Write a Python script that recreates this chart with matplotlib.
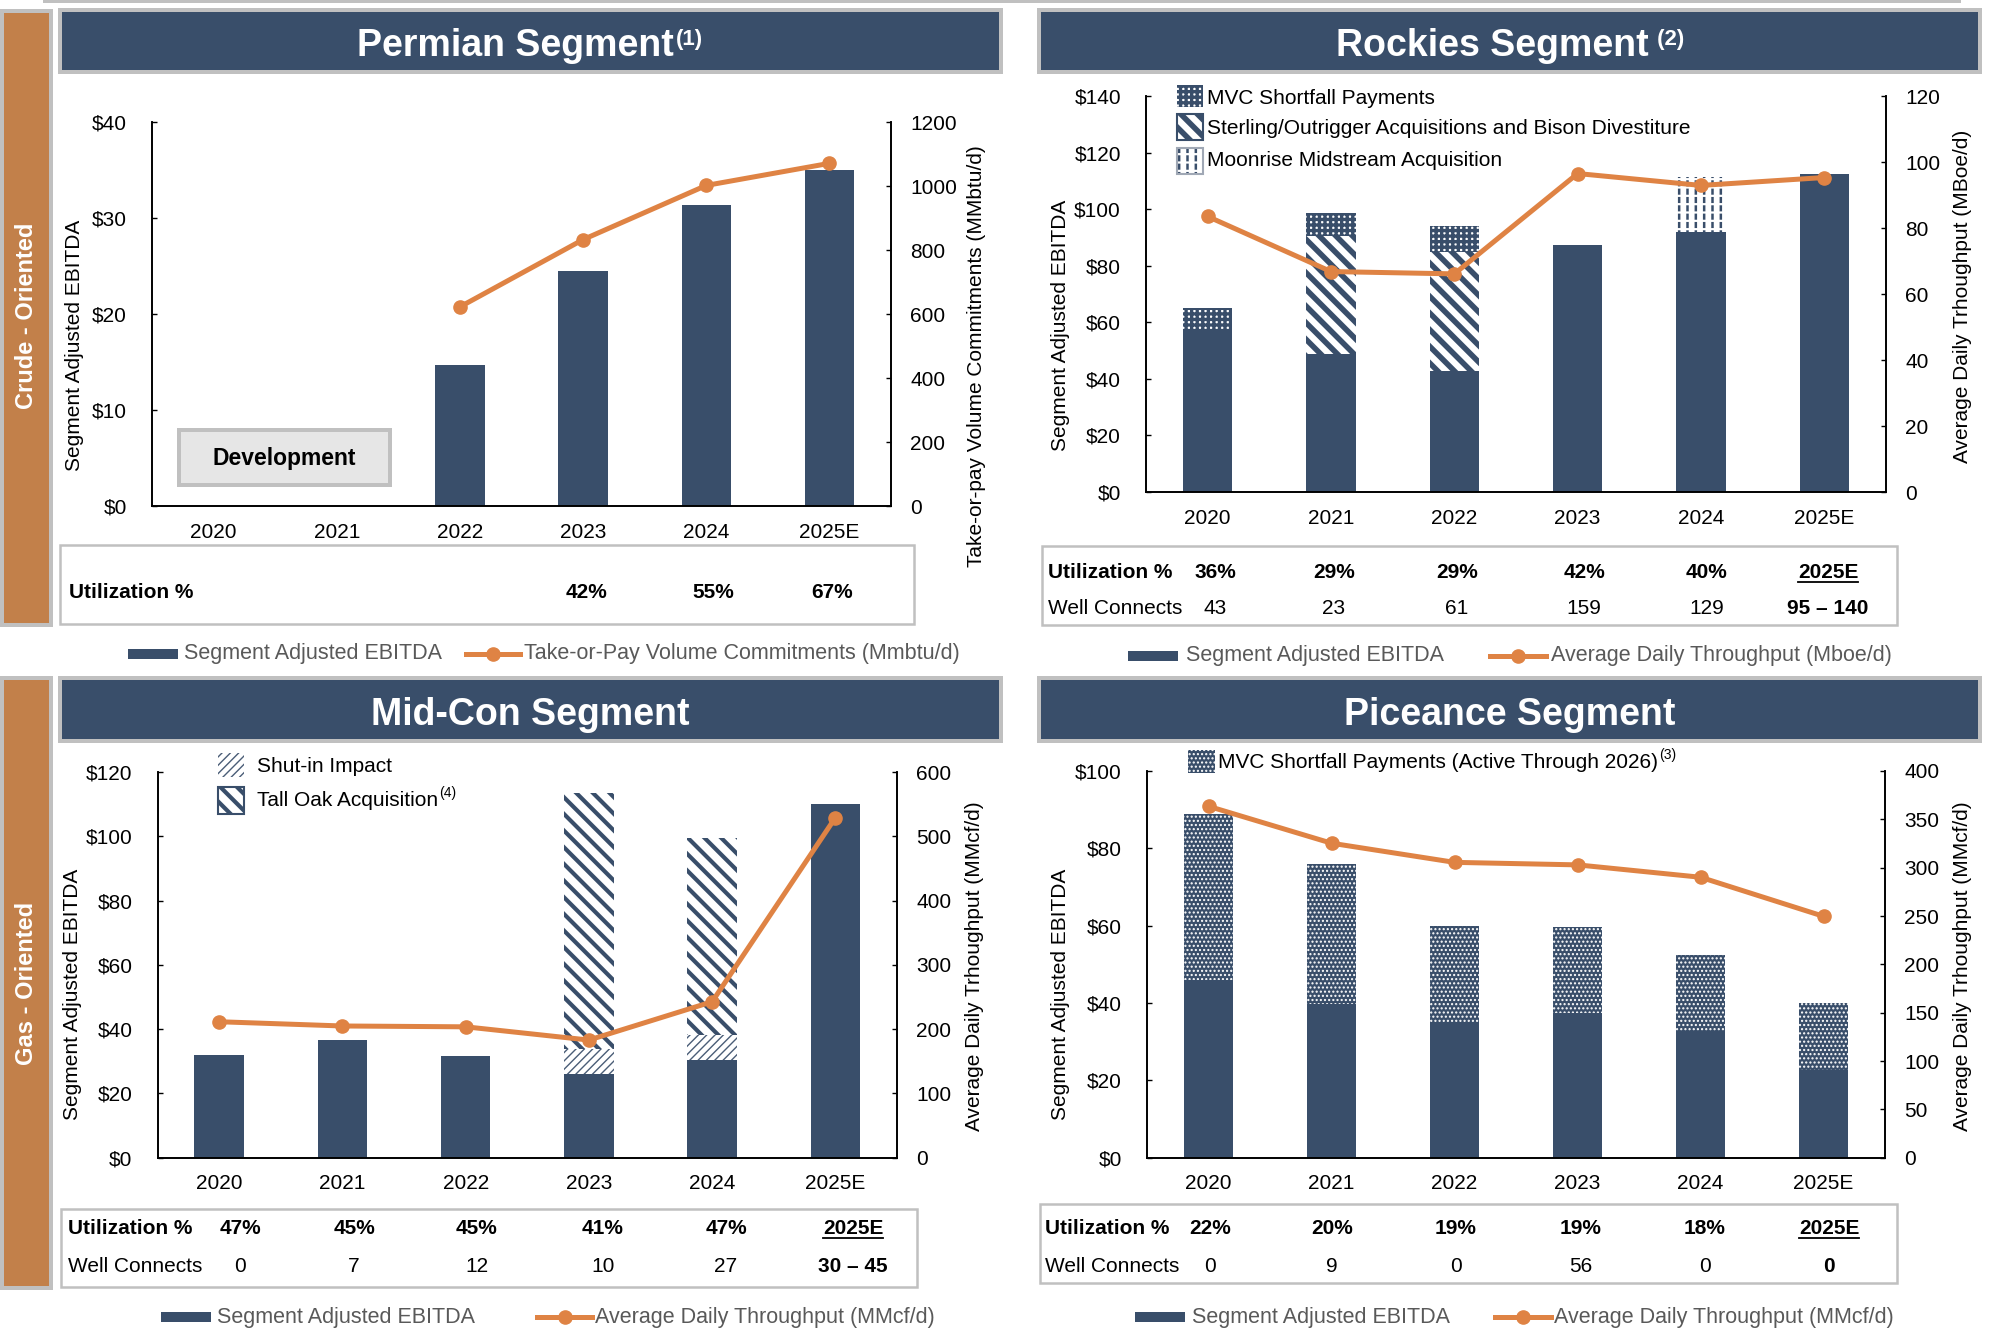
import matplotlib
matplotlib.use('Agg')
import matplotlib.pyplot as plt
from matplotlib.patches import Rectangle
from matplotlib.lines import Line2D
import numpy as np

plt.rcParams['font.family'] = ['Liberation Sans', 'DejaVu Sans']

W, H = 1998, 1336
NAVY = '#394E6A'
ORANGE = '#DF8344'
SIDE = '#C2804A'
GRAY = '#C0C0C0'
LEG_TXT = '#595959'

years = ['2020', '2021', '2022', '2023', '2024', '2025E']

# Permian
perm_ebitda = [0, 0, 14.7, 24.5, 31.4, 35.0]
perm_top = [np.nan, np.nan, 623, 833, 1002, 1071]
perm_util = ['', '', '', '42%', '55%', '67%']

# Rockies
rock_base = [56.6, 48.9, 42.8, 87.3, 92.0, 112.4]
rock_sterling = [0, 41.6, 42.0, 0, 0, 0]
rock_mvc = [8.4, 8.3, 9.1, 0, 0, 0]
rock_moonrise = [0, 0, 0, 0, 19.5, 0]
rock_thru = [83.5, 66.8, 66.1, 96.5, 92.9, 95.3]
rock_util = ['36%', '29%', '29%', '42%', '40%', '2025E']
rock_wells = ['43', '23', '61', '159', '129', '95 – 140']

# Mid-Con
mc_base = [32.0, 36.6, 31.5, 26.0, 30.5, 110.1]
mc_shutin = [0, 0, 0, 7.7, 7.8, 0]
mc_talloak = [0, 0, 0, 79.7, 61.3, 0]
mc_thru = [211.5, 204.9, 203.6, 183, 242.6, 529]
mc_util = ['47%', '45%', '45%', '41%', '47%', '2025E']
mc_wells = ['0', '7', '12', '10', '27', '30 – 45']

# Piceance
pc_base = [46.0, 39.8, 34.8, 37.5, 32.7, 22.7]
pc_mvc = [42.8, 36.1, 25.1, 22.2, 19.8, 17.2]
pc_thru = [363.5, 325.3, 305.5, 302.9, 290.1, 249.7]
pc_util = ['22%', '20%', '19%', '19%', '18%', '2025E']
pc_wells = ['0', '9', '0', '56', '0', '0']

# hatch styles: (hatch, face, hatch colour, hatch linewidth)
H_STERLING = ('\\\\', 'white', NAVY, 4.0)
H_MVC_R = ('+++', 'white', NAVY, 2.4)
H_MOON = ('||', 'white', NAVY, 1.8)
H_MOON_GAP = ('--', 'none', 'white', 1.6)
H_SHUTIN = ('////', 'white', '#4A5D77', 1.0)
H_TALLOAK = ('\\\\', 'white', NAVY, 3.0)
H_MVC_P = ('....', NAVY, 'white', 1.0)

fig = plt.figure(figsize=(W / 100, H / 100), dpi=100)
ov = fig.add_axes([0, 0, 1, 1])
ov.set_xlim(0, W)
ov.set_ylim(H, 0)
ov.axis('off')
ov.set_zorder(-1)
R = fig.canvas.get_renderer()


def rect(x0, y0, x1, y1, **kw):
    ov.add_patch(Rectangle((x0, y0), x1 - x0, y1 - y0, **kw))


def width_of(t):
    return t.get_window_extent(R).width


# ---------- decorative frame ----------
rect(43, 0, 1961, 3, fc=GRAY, ec='none')
for (t0, t1) in [(9, 627), (676, 1290)]:
    rect(0, t0, 53, t1, fc=GRAY, ec='none')
    rect(4, t0 + 4, 49, t1 - 4, fc=SIDE, ec='none')
ov.text(27, 316, 'Crude - Oriented', rotation=90, ha='center', va='center',
        color='white', fontsize=17, weight='bold')
ov.text(27, 983, 'Gas - Oriented', rotation=90, ha='center', va='center',
        color='white', fontsize=17, weight='bold')

headers = [(58, 8, 1003, 74), (1037, 8, 1982, 74), (58, 676, 1003, 743), (1037, 676, 1982, 743)]
for (a, b, c, d) in headers:
    rect(a, b, c, d, fc=GRAY, ec='none')
    rect(a + 4, b + 4, c - 4, d - 4, fc=NAVY, ec='none')


def title(cx, base_y, main, sup=None, gap=3):
    t = ov.text(0, base_y, main, fontsize=27, weight='bold', color='white', ha='left', va='baseline')
    wm = width_of(t)
    ws = 0
    s = None
    if sup:
        s = ov.text(0, base_y - 11, sup, fontsize=16, weight='bold', color='white', ha='left', va='baseline')
        ws = width_of(s) + gap
    x0 = cx - (wm + ws) / 2
    t.set_x(x0)
    if s is not None:
        s.set_x(x0 + wm + gap)


title(530, 56, 'Permian Segment', '(1)')
title(1510, 56, 'Rockies Segment', ' (2)')
title(530, 725, 'Mid-Con Segment')
title(1510, 725, 'Piceance Segment')


# ---------- chart axes ----------
def px_axes(l, t, r, b):
    return fig.add_axes([l / W, 1 - b / H, (r - l) / W, (b - t) / H])


def setup(ax, ymax, ystep, rmax, rstep):
    ax.patch.set_visible(False)
    ax.set_xlim(-0.5, 5.5)
    ax.set_ylim(0, ymax)
    ax.set_xticks(range(len(years)))
    ax.set_xticklabels(years)
    yt = np.arange(0, ymax + 0.1, ystep)
    ax.set_yticks(yt)
    ax.set_yticklabels(['$%d' % v for v in yt])
    ax.tick_params(axis='x', length=0, pad=12, labelsize=15)
    ax.tick_params(axis='y', direction='in', length=3.6, width=1, pad=18, labelsize=15)
    ax.spines['top'].set_visible(False)
    for s in ('left', 'bottom', 'right'):
        ax.spines[s].set_linewidth(1.2)
    ax2 = ax.twinx()
    ax2.set_ylim(0, rmax)
    ax2.set_yticks(np.arange(0, rmax + 0.1, rstep))
    ax2.tick_params(axis='y', direction='in', length=3.6, width=1, pad=14, labelsize=15)
    ax2.spines['top'].set_visible(False)
    for s in ('left', 'bottom', 'right'):
        ax2.spines[s].set_linewidth(1.2)
    return ax2


def hbar(ax, x, h, bottom, style):
    hatch, fc, hc, lw = style
    with plt.rc_context({'hatch.linewidth': lw}):
        bars = ax.bar(x, h, 0.4, bottom=bottom, facecolor=fc, edgecolor=hc,
                      linewidth=0, hatch=hatch, zorder=2)
    for b in bars:
        if hasattr(b, 'set_hatch_linewidth'):
            b.set_hatch_linewidth(lw)
    return bars


def hpatch(x0, y0, x1, y1, style, border=None):
    hatch, fc, hc, lw = style
    with plt.rc_context({'hatch.linewidth': lw}):
        p = Rectangle((x0, y0), x1 - x0, y1 - y0, facecolor=fc, edgecolor=hc,
                      linewidth=0, hatch=hatch)
    if hasattr(p, 'set_hatch_linewidth'):
        p.set_hatch_linewidth(lw)
    ov.add_patch(p)
    if border:
        rect(x0, y0, x1, y1, fill=False, ec=border, lw=1.5)


def line(ax2, x, y):
    ax2.plot(x, y, color=ORANGE, lw=3.6, marker='o', ms=9.5, zorder=5, clip_on=False)


x = np.arange(len(years))

# Permian
axP = px_axes(152, 122, 891, 506.5)
axP2 = setup(axP, 40, 10, 1200, 200)
axP.bar(x, perm_ebitda, 0.4, color=NAVY, zorder=2)
line(axP2, x, perm_top)

# Rockies
axR = px_axes(1146, 96, 1886, 492)
axR2 = setup(axR, 140, 20, 120, 20)
axR.bar(x, rock_base, 0.4, color=NAVY, zorder=2)
b1 = np.array(rock_base)
hbar(axR, x, rock_sterling, b1, H_STERLING)
b2 = b1 + np.array(rock_sterling)
hbar(axR, x, rock_mvc, b2, H_MVC_R)
hbar(axR, x, rock_moonrise, b1, H_MOON)
hbar(axR, x, rock_moonrise, b1, H_MOON_GAP)
line(axR2, x, rock_thru)

# Mid-Con
axM = px_axes(157.5, 772, 897, 1157.7)
axM2 = setup(axM, 120, 20, 600, 100)
axM.bar(x, mc_base, 0.4, color=NAVY, zorder=2)
m1 = np.array(mc_base)
hbar(axM, x, mc_shutin, m1, H_SHUTIN)
m2 = m1 + np.array(mc_shutin)
hbar(axM, x, mc_talloak, m2, H_TALLOAK)
line(axM2, x, mc_thru)

# Piceance
axC = px_axes(1147, 771, 1885, 1157.7)
axC2 = setup(axC, 100, 20, 400, 50)
axC.bar(x, pc_base, 0.4, color=NAVY, zorder=2)
hbar(axC, x, pc_mvc, np.array(pc_base), H_MVC_P)
line(axC2, x, pc_thru)

# ---------- axis titles ----------
yl = dict(rotation=90, ha='center', va='center', fontsize=15, color='black')
ov.text(74, 345, 'Segment Adjusted EBITDA', **yl)
ov.text(976, 356, 'Take-or-pay Volume Commitments (MMbtu/d)', **yl)
ov.text(1060, 325, 'Segment Adjusted EBITDA', **yl)
ov.text(1962, 296, 'Average Daily Trhoughput (MBoe/d)', **yl)
ov.text(73, 994, 'Segment Adjusted EBITDA', **yl)
ov.text(975, 966, 'Average Daily Trhoughput (MMcf/d)', **yl)
ov.text(1060, 994, 'Segment Adjusted EBITDA', **yl)
ov.text(1962, 966, 'Average Daily Trhoughput (MMcf/d)', **yl)

# ---------- Development box ----------
rect(177, 428, 392, 487, fc=GRAY, ec='none')
rect(181, 432, 388, 483, fc='#E6E6E6', ec='none')
ov.text(284, 459, 'Development', ha='center', va='center', fontsize=16.5, weight='bold')

# ---------- in-chart hatch legends ----------
lt = dict(ha='left', va='center', fontsize=15, color='black')
hpatch(1177, 85, 1203, 107, H_MVC_R)
ov.text(1207, 99, 'MVC Shortfall Payments', **lt)
hpatch(1177, 114, 1203, 140, H_STERLING, border=NAVY)
ov.text(1207, 129, 'Sterling/Outrigger Acquisitions and Bison Divestiture', **lt)
hpatch(1177, 148, 1203, 174, H_MOON)
hpatch(1177, 148, 1203, 174, H_MOON_GAP, border='#A0A8B5')
ov.text(1207, 161, 'Moonrise Midstream Acquisition', **lt)

hpatch(218, 753, 244, 777, H_SHUTIN)
ov.text(257, 766, 'Shut-in Impact', **lt)
hpatch(218, 787, 244, 814, H_TALLOAK, border=NAVY)
t = ov.text(257, 800, 'Tall Oak Acquisition', **lt)
ov.text(257 + width_of(t) + 1, 793, '(4)', ha='left', va='center', fontsize=10)

hpatch(1188, 750, 1215, 773, H_MVC_P)
t = ov.text(1218, 762, 'MVC Shortfall Payments (Active Through 2026)', **lt)
ov.text(1218 + width_of(t) + 1, 755, '(3)', ha='left', va='center', fontsize=10)


# ---------- tables ----------
def table(box, label_x, rows, cols):
    rect(box[0], box[1], box[2], box[3], fill=False, ec=GRAY, lw=1.8)
    for (ry, label, vals, bold) in rows:
        ov.text(label_x, ry, label, ha='left', va='center', fontsize=15,
                weight='bold' if bold else 'normal')
        for i, (cx, v) in enumerate(zip(cols, vals)):
            if not v:
                continue
            last = (i == len(vals) - 1)
            tt = ov.text(cx, ry, v, ha='center', va='center', fontsize=15,
                         weight='bold' if (bold or last) else 'normal')
            if v == '2025E':
                w = width_of(tt)
                ov.plot([cx - w / 2, cx + w / 2], [ry + 10, ry + 10], color='black', lw=1.3)


table((60, 545, 914, 624), 69, [(593, 'Utilization %', perm_util, True)],
      [240, 354, 477, 586, 713, 832])
table((1042, 546, 1897, 625), 1048,
      [(572, 'Utilization %', rock_util, True), (608, 'Well Connects', rock_wells, False)],
      [1215, 1334, 1457, 1584, 1707, 1828])
table((61, 1209, 917, 1287), 68,
      [(1228, 'Utilization %', mc_util, True), (1267, 'Well Connects', mc_wells, False)],
      [240, 354, 477, 603, 726, 853])
table((1040, 1204, 1897, 1283), 1045,
      [(1228, 'Utilization %', pc_util, True), (1267, 'Well Connects', pc_wells, False)],
      [1210, 1332, 1456, 1581, 1705, 1829])


# ---------- bottom legends ----------
def legend(y, px0, tx0, lx0, lx1, tx1, label2):
    rect(px0, y - 5, px0 + 50, y + 5, fc=NAVY, ec='none')
    ov.text(tx0, y, 'Segment Adjusted EBITDA', ha='left', va='center', fontsize=15.5, color=LEG_TXT)
    ov.add_line(Line2D([lx0, lx1], [y, y], color=ORANGE, lw=3.6))
    ov.add_line(Line2D([(lx0 + lx1) / 2], [y], color=ORANGE, marker='o', ms=9.5, lw=0))
    ov.text(tx1, y, label2, ha='left', va='center', fontsize=15.5, color=LEG_TXT)


legend(654, 128, 184, 466, 520, 524, 'Take-or-Pay Volume Commitments (Mmbtu/d)')
legend(656, 1128, 1186, 1490, 1546, 1551, 'Average Daily Throughput (Mboe/d)')
legend(1317, 161, 217, 537, 592, 595, 'Average Daily Throughput (MMcf/d)')
legend(1317, 1135, 1192, 1495, 1551, 1554, 'Average Daily Throughput (MMcf/d)')

fig.savefig('out.png', dpi=100)
